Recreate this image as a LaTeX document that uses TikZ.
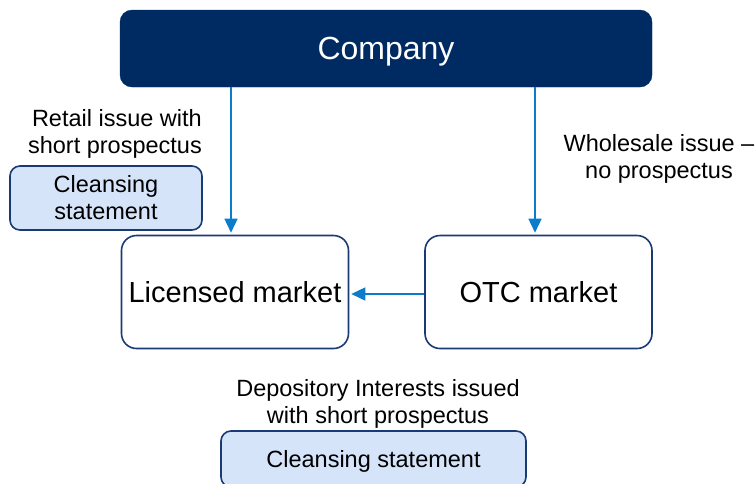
\documentclass[tikz,border=0pt]{standalone}
\usepackage{fontspec}
\setmainfont{Liberation Sans}
\usetikzlibrary{arrows.meta}
\definecolor{navy}{HTML}{002A62}
\definecolor{boxline}{HTML}{1A3A74}
\definecolor{paleblue}{HTML}{D6E4FA}
\definecolor{flow}{HTML}{0A7CCB}
\begin{document}
\begin{tikzpicture}[x=1pt,y=-1pt,
  headbox/.style={draw=navy,fill=navy,rounded corners=12pt,text=white,
    minimum width=532pt,minimum height=77pt,inner sep=0pt,text depth=0pt,
    font=\fontsize{32}{37}\selectfont},
  marketbox/.style={draw=boxline,line width=1.6pt,fill=white,rounded corners=15pt,
    minimum width=227pt,minimum height=113pt,inner sep=0pt,text depth=0pt,
    font=\fontsize{29}{34}\selectfont},
  notebox/.style={draw=boxline,line width=1.6pt,fill=paleblue,rounded corners=10pt,
    inner sep=0pt,align=center,font=\fontsize{23.5}{27}\selectfont},
  caption/.style={inner sep=0pt,font=\fontsize{23.5}{27}\selectfont},
  arr/.style={draw=flow,line width=1.6pt,-{Triangle[width=13pt,length=14pt]},shorten >=2pt}]
\useasboundingbox (0,0) rectangle (756,483);
\clip (0,0) rectangle (756,483);

% main boxes
\node[headbox] (comp) at (386,48.5) {Company};
\node[marketbox] (lic) at (235,292) {Licensed market};
\node[marketbox] (otc) at (538.5,292) {OTC market};

% side notes
\node[caption,align=right,anchor=east] (retail) at (202,134) {Retail issue with\\short prospectus};
\node[notebox,minimum width=192pt,minimum height=64pt] (cleanL) at (106,198) {Cleansing\\statement};
\node[caption,align=center] (whole) at (659,159) {Wholesale issue –\\no prospectus};
\node[caption,align=center] (depo) at (378,404) {Depository Interests issued\\with short prospectus};
\node[notebox,minimum width=305pt,minimum height=56pt,text depth=0pt] (cleanB) at (373.5,459) {Cleansing statement};

% flows
\coordinate (inL) at ([xshift=-4pt]lic.north);
\coordinate (inO) at ([xshift=-3.5pt]otc.north);
\draw[arr] (comp.south -| inL) -- (inL);
\draw[arr] (comp.south -| inO) -- (inO);
\draw[arr] ([yshift=-2pt]otc.west) -- ([yshift=-2pt]lic.east);
\end{tikzpicture}
\end{document}
